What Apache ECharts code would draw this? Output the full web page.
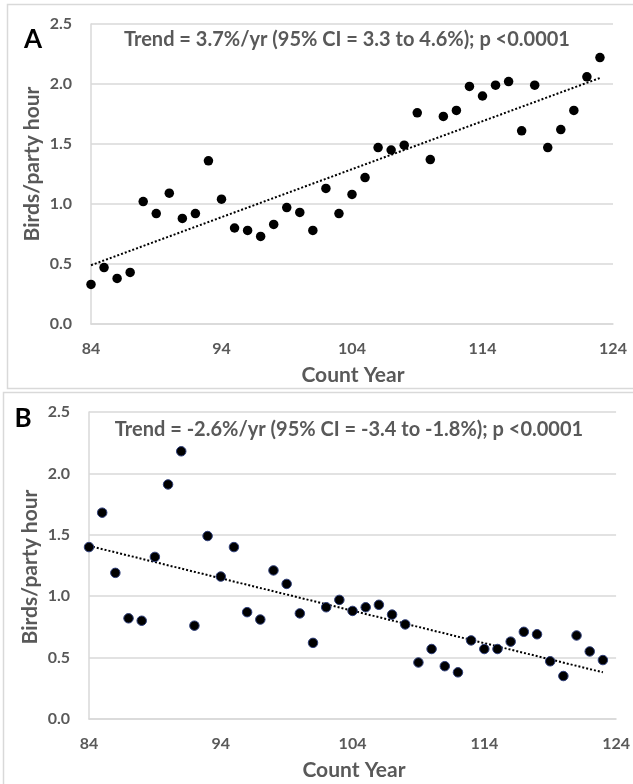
<!DOCTYPE html>
<html><head><meta charset="utf-8">
<script src="https://cdn.jsdelivr.net/npm/echarts@6/dist/echarts.min.js"></script>
<style>html,body{margin:0;padding:0;background:#fff}#c{width:633px;height:784px}</style>
</head><body><div id="c"></div>
<script>
const yearsA = [84,85,86,87,88,89,90,91,92,93,94,95,96,97,98,99,100,101,102,103,104,105,106,107,108,109,110,111,112,113,114,115,116,117,118,119,120,121,122,123];
const valuesA = [0.33,0.47,0.38,0.43,1.02,0.92,1.09,0.88,0.92,1.36,1.04,0.80,0.78,0.73,0.83,0.97,0.93,0.78,1.13,0.92,1.08,1.22,1.47,1.45,1.49,1.76,1.37,1.73,1.78,1.98,1.90,1.99,2.02,1.61,1.99,1.47,1.62,1.78,2.06,2.22];
const yearsB = [84,85,86,87,88,89,90,91,92,93,94,95,96,97,98,99,100,101,102,103,104,105,106,107,108,109,110,111,112,113,114,115,116,117,118,119,120,121,122,123];
const valuesB = [1.40,1.68,1.19,0.82,0.80,1.32,1.91,2.18,0.76,1.49,1.16,1.40,0.87,0.81,1.21,1.10,0.86,0.62,0.91,0.97,0.88,0.91,0.93,0.85,0.77,0.46,0.57,0.43,0.38,0.64,0.57,0.57,0.63,0.71,0.69,0.47,0.35,0.68,0.55,0.48];
const trendYearsA = [84,123];
const trendA = [0.49,2.05];
const trendYearsB = [84,123];
const trendB = [1.41,0.38];
const xTicks = [84,94,104,114,124];
const titleA = 'Trend = 3.7%/yr (95% CI = 3.3 to 4.6%); p <0.0001';
const titleB = 'Trend = -2.6%/yr (95% CI = -3.4 to -1.8%); p <0.0001';

const FONT = 'Lato';
const GRAY = '#595959';
const LINE = '#d9d9d9';
const zip = (xs, ys) => xs.map((x, i) => [x, ys[i]]);

function xAx(gi) {
  return {
    type: 'value', gridIndex: gi, min: 84, max: 124, interval: 10,
    axisLine: {show: true, lineStyle: {color: LINE, width: 1.5}},
    axisTick: {show: false}, splitLine: {show: false},
    axisLabel: {customValues: xTicks, margin: 17, color: GRAY, fontFamily: FONT, fontWeight: 'bold', fontSize: 16}
  };
}
function yAx(gi) {
  return {
    type: 'value', gridIndex: gi, min: 0, max: 2.5, interval: 0.5,
    axisLine: {show: true, lineStyle: {color: LINE, width: 1.5}},
    axisTick: {show: false},
    splitLine: {show: true, lineStyle: {color: LINE, width: 1.5}},
    axisLabel: {margin: 19, color: GRAY, fontFamily: FONT, fontWeight: 'bold', fontSize: 16, formatter: v => v.toFixed(1)}
  };
}
const txt = (x, y, text, size, color, rot) => ({
  type: 'text', x: x, y: y, rotation: rot || 0,
  style: {text: text, fill: color, font: 'bold ' + size + 'px ' + FONT, align: 'center', verticalAlign: 'middle'}
});

const chart = echarts.init(document.getElementById('c'), null, {renderer: 'canvas'});
chart.setOption({
  animation: false,
  backgroundColor: '#fff',
  grid: [
    {left: 91, top: 24, width: 522, height: 300},
    {left: 89, top: 412, width: 528, height: 307}
  ],
  xAxis: [xAx(0), xAx(1)],
  yAxis: [yAx(0), yAx(1)],
  series: [
    {type: 'scatter', xAxisIndex: 0, yAxisIndex: 0, data: zip(yearsA, valuesA), symbolSize: 9.5,
     itemStyle: {color: '#000', opacity: 1}, z: 3},
    {type: 'line', xAxisIndex: 0, yAxisIndex: 0, data: zip(trendYearsA, trendA), symbol: 'none',
     lineStyle: {color: '#000', width: 2, type: [2, 2]}, z: 2},
    {type: 'scatter', xAxisIndex: 1, yAxisIndex: 1, data: zip(yearsB, valuesB), symbolSize: 9.5,
     itemStyle: {color: '#000', opacity: 1, borderColor: '#2f3f7a', borderWidth: 1}, z: 3},
    {type: 'line', xAxisIndex: 1, yAxisIndex: 1, data: zip(trendYearsB, trendB), symbol: 'none',
     lineStyle: {color: '#000', width: 2, type: [2, 2]}, z: 2}
  ],
  graphic: [
    {type: 'rect', shape: {x: 7.5, y: 4.5, width: 640, height: 384}, style: {fill: 'none', stroke: LINE, lineWidth: 1.5}, z: -1},
    {type: 'rect', shape: {x: 3.5, y: 392.5, width: 640, height: 400}, style: {fill: 'none', stroke: LINE, lineWidth: 1.5}, z: -1},
    txt(33, 40, 'A', 26, '#000'),
    txt(23, 419, 'B', 26, '#000'),
    txt(347, 40, titleA, 20, GRAY),
    txt(349, 430, titleB, 20, GRAY),
    txt(32, 164, 'Birds/party hour', 21, GRAY, Math.PI / 2),
    txt(30, 567, 'Birds/party hour', 21, GRAY, Math.PI / 2),
    txt(353, 375, 'Count Year', 21, GRAY),
    txt(354, 770, 'Count Year', 21, GRAY)
  ]
});
</script></body></html>
